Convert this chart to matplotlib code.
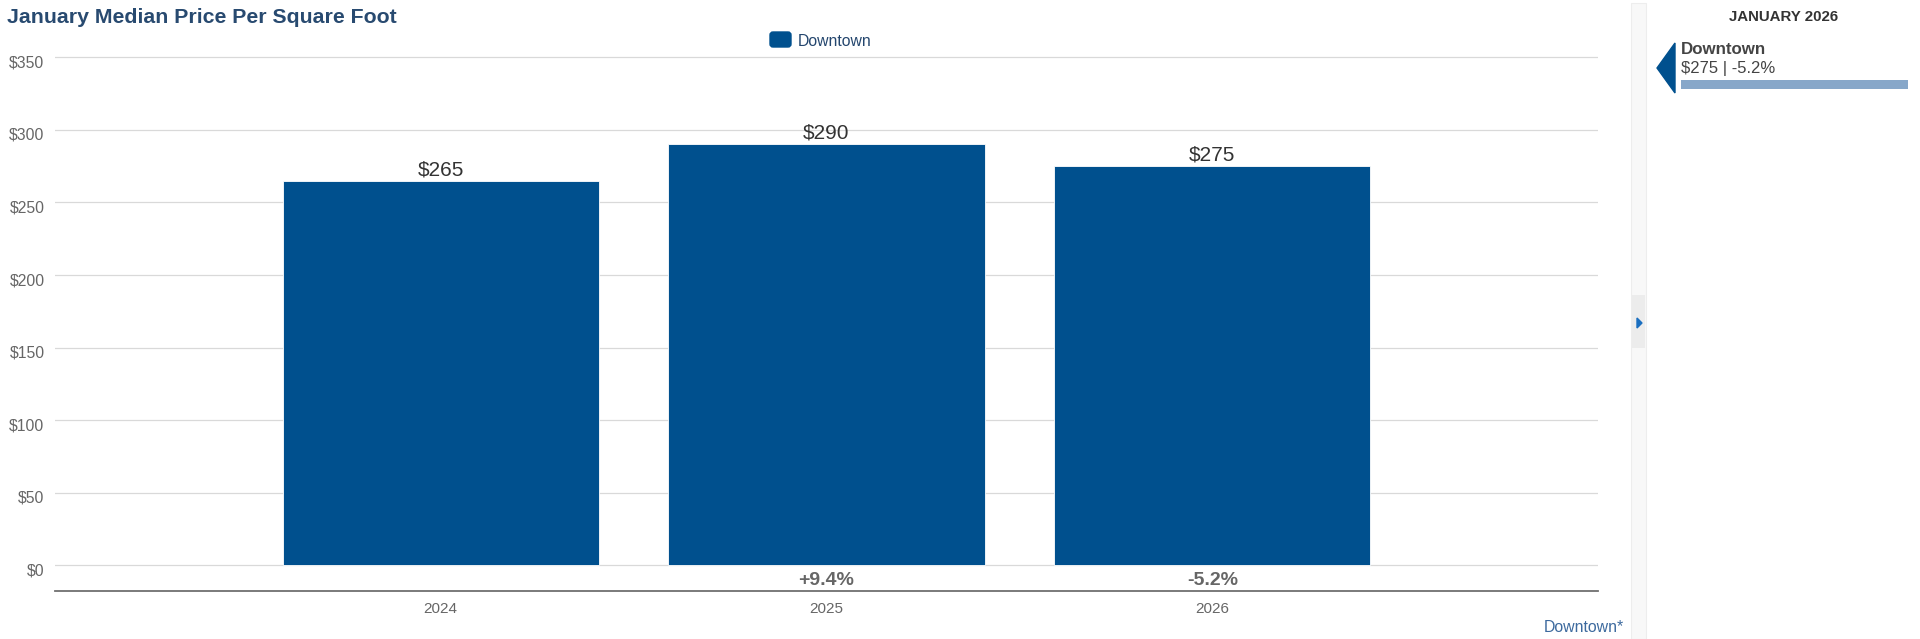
import matplotlib
matplotlib.use("Agg")
import matplotlib.pyplot as plt
from matplotlib.patches import FancyBboxPatch, Rectangle, Polygon
from matplotlib.transforms import ScaledTranslation

plt.rcParams['font.family'] = ['Liberation Sans', 'DejaVu Sans']

# ---- data ----
years = ["2024", "2025", "2026"]
values = [265, 290, 275]
value_labels = ["$265", "$290", "$275"]
series_name = "Downtown"
yticks = [0, 50, 100, 150, 200, 250, 300, 350]
ytick_labels = ["$0", "$50", "$100", "$150", "$200", "$250", "$300", "$350"]
title = "January Median Price Per Square Foot"
panel_title = "JANUARY 2026"

BAR = "#00508e"
W, H = 1920, 639
fig = plt.figure(figsize=(W / 100, H / 100), dpi=100)


def px(x, y):
    return x, H - y


# axes placement (pixel measurements)
ax_left, ax_right = 55, 1598
y_top_val, y_bot_val = 352, -17.7
zero_px, per_unit = 565.5, (565.5 - 57.3) / 350
top_px = zero_px - y_top_val * per_unit
bot_px = zero_px - y_bot_val * per_unit
ax = fig.add_axes([ax_left / W, 1 - bot_px / H, (ax_right - ax_left) / W, (bot_px - top_px) / H])
ax.set_xlim(-1, 3)
ax.set_ylim(y_bot_val, y_top_val)

x = list(range(len(years)))
ax.bar(x, values, width=0.82, color=BAR, edgecolor="#ffffff", linewidth=0.6, zorder=3)

# grid
for t in yticks:
    ax.axhline(t, color="#d9d9d9", lw=0.9, zorder=1)
for s in ["top", "right", "left"]:
    ax.spines[s].set_visible(False)
ax.spines["bottom"].set_color("#707070")
ax.spines["bottom"].set_linewidth(1.3)

ax.set_yticks(yticks)
ax.set_yticklabels(ytick_labels)
ax.tick_params(axis="y", length=0, pad=7.5, labelsize=11.3, labelcolor="#666666")
off = ScaledTranslation(0, -4 / 100, fig.dpi_scale_trans)
for lab in ax.get_yticklabels():
    lab.set_transform(lab.get_transform() + off)

ax.set_xticks(x)
ax.set_xticklabels(years)
ax.tick_params(axis="x", length=0, pad=8, labelsize=11, labelcolor="#666666")

# value labels
for xi, v, lab in zip(x, values, value_labels):
    ax.annotate(lab, (xi, v), xytext=(0, 4), textcoords="offset points",
                ha="center", va="baseline", fontsize=15, color="#333333")

# percent change labels
for i in range(1, len(values)):
    pct = (values[i] / values[i - 1] - 1) * 100
    ax.text(x[i], -10.3, f"{pct:+.1f}%", ha="center", va="center",
            fontsize=14, fontweight="bold", color="#666666")

# title
fig.text(*px(7, 22.7), title, ha="left", va="baseline", fontsize=15.3,
         fontweight="bold", color="#284a70", transform=None)

# legend
fig.patches.append(FancyBboxPatch(px(770, 47), 21, 15,
                                  boxstyle="round,pad=0,rounding_size=3",
                                  color=BAR, transform=None, figure=fig))
fig.text(*px(798, 41), series_name, ha="left", va="center", fontsize=11.3,
         color="#24466e", transform=None)

# bottom-right series note
fig.text(*px(1624, 627), series_name + "*", ha="right", va="center",
         fontsize=11.4, color="#3d6a9e", transform=None)

# separator strip
fig.patches.append(Rectangle(px(1631, 639), 15, 636, facecolor="#f8f8f8",
                             edgecolor="#ededed", lw=0.8, transform=None, figure=fig))
fig.patches.append(Rectangle(px(1632, 348), 13, 53, facecolor="#ececec",
                             edgecolor="none", transform=None, figure=fig))
fig.patches.append(Polygon([px(1637, 318), px(1637, 328), px(1642, 323)],
                           closed=True, color="#1a6fc0", transform=None, figure=fig))

# right panel
fig.text(*px(1784, 17), panel_title, ha="center", va="center", fontsize=10.8,
         fontweight="bold", color="#333333", transform=None)
fig.patches.append(Polygon([px(1657, 68), px(1675, 43), px(1675, 93)],
                           closed=True, color=BAR, transform=None, figure=fig))
fig.text(*px(1681, 49), series_name, ha="left", va="center", fontsize=12.2,
         fontweight="bold", color="#444444", transform=None)
last_pct = (values[-1] / values[-2] - 1) * 100
fig.text(*px(1681, 69), f"{value_labels[-1]} | {last_pct:.1f}%", ha="left",
         va="center", fontsize=12, color="#444444", transform=None)
fig.patches.append(Rectangle(px(1681, 89), 227, 9, facecolor="#87a7c9",
                             edgecolor="none", transform=None, figure=fig))

fig.savefig("out.png", dpi=100)
